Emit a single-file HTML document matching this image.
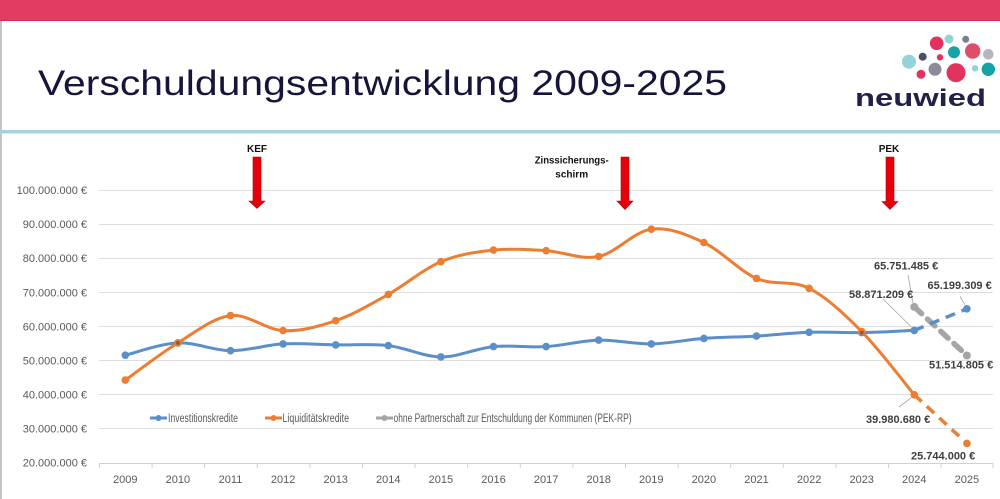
<!DOCTYPE html>
<html>
<head>
<meta charset="utf-8">
<style>
html,body{margin:0;padding:0;background:#fff;}
svg{display:block;}
</style>
</head>
<body>
<svg width="1000" height="499" viewBox="0 0 1000 499" xmlns="http://www.w3.org/2000/svg" font-family="'Liberation Sans', sans-serif">
  <rect x="0" y="0" width="1000" height="499" fill="#ffffff"/>
  <!-- top bar -->
  <rect x="0" y="0" width="1000" height="21" fill="#e33c63"/>
  <rect x="0" y="20" width="1000" height="1" fill="#c93556"/>
  <!-- left border -->
  <rect x="0" y="21" width="2" height="478" fill="#c4c4c4"/>
  <!-- teal separator -->
  <rect x="0" y="130" width="1000" height="3.5" fill="#a5d3dd"/>

  <!-- title -->
  <text x="38" y="95" font-size="35" fill="#17143a" textLength="689" lengthAdjust="spacingAndGlyphs">Verschuldungsentwicklung 2009-2025</text>

  <!-- logo -->
  <g>
    <circle cx="936.7" cy="43.3" r="6.8" fill="#e2335f"/>
    <circle cx="949" cy="39" r="4.5" fill="#93d3da"/>
    <circle cx="965.7" cy="39.3" r="3.5" fill="#7d7a8a"/>
    <circle cx="909" cy="61.7" r="7" fill="#93d3da"/>
    <circle cx="922.7" cy="56.7" r="4" fill="#4e4b63"/>
    <circle cx="940" cy="57.3" r="3.2" fill="#e2335f"/>
    <circle cx="954" cy="52.3" r="6" fill="#16a2a6"/>
    <circle cx="972.7" cy="51" r="7.7" fill="#df4e69"/>
    <circle cx="988.3" cy="54.3" r="5.3" fill="#b7b5c0"/>
    <circle cx="921" cy="74.3" r="4.5" fill="#e2335f"/>
    <circle cx="935" cy="69.3" r="6.5" fill="#8d8a99"/>
    <circle cx="956" cy="72.7" r="9.5" fill="#e2335f"/>
    <circle cx="975" cy="68.3" r="3.3" fill="#93d3da"/>
    <circle cx="988.3" cy="69.3" r="6.7" fill="#16a2a6"/>
    <text x="855" y="106" font-size="24" font-weight="bold" fill="#22204a" textLength="131" lengthAdjust="spacingAndGlyphs">neuwied</text>
  </g>

  <!-- gridlines -->
  <g stroke="#dedede" stroke-width="1">
    <line x1="99" y1="190.5" x2="993" y2="190.5"/>
    <line x1="99" y1="224.5" x2="993" y2="224.5"/>
    <line x1="99" y1="258.5" x2="993" y2="258.5"/>
    <line x1="99" y1="292.5" x2="993" y2="292.5"/>
    <line x1="99" y1="326.5" x2="993" y2="326.5"/>
    <line x1="99" y1="360.5" x2="993" y2="360.5"/>
    <line x1="99" y1="394.5" x2="993" y2="394.5"/>
    <line x1="99" y1="428.5" x2="993" y2="428.5"/>
  </g>
  <g stroke="#d0d0d0" stroke-width="1">
    <line x1="99" y1="463.5" x2="993" y2="463.5"/>
    <line x1="99.5" y1="463" x2="99.5" y2="468"/>
    <line x1="152.1" y1="463" x2="152.1" y2="468"/>
    <line x1="204.7" y1="463" x2="204.7" y2="468"/>
    <line x1="257.3" y1="463" x2="257.3" y2="468"/>
    <line x1="309.9" y1="463" x2="309.9" y2="468"/>
    <line x1="362.5" y1="463" x2="362.5" y2="468"/>
    <line x1="415.1" y1="463" x2="415.1" y2="468"/>
    <line x1="467.7" y1="463" x2="467.7" y2="468"/>
    <line x1="520.3" y1="463" x2="520.3" y2="468"/>
    <line x1="572.9" y1="463" x2="572.9" y2="468"/>
    <line x1="625.5" y1="463" x2="625.5" y2="468"/>
    <line x1="678.1" y1="463" x2="678.1" y2="468"/>
    <line x1="730.7" y1="463" x2="730.7" y2="468"/>
    <line x1="783.3" y1="463" x2="783.3" y2="468"/>
    <line x1="835.9" y1="463" x2="835.9" y2="468"/>
    <line x1="888.5" y1="463" x2="888.5" y2="468"/>
    <line x1="941.1" y1="463" x2="941.1" y2="468"/>
    <line x1="993" y1="463" x2="993" y2="468"/>
  </g>

  <!-- y axis labels -->
  <g font-size="11" fill="#595959" text-anchor="end">
    <text x="87" y="194">100.000.000 €</text>
    <text x="87" y="228">90.000.000 €</text>
    <text x="87" y="262">80.000.000 €</text>
    <text x="87" y="296.5">70.000.000 €</text>
    <text x="87" y="330.5">60.000.000 €</text>
    <text x="87" y="364.5">50.000.000 €</text>
    <text x="87" y="398.5">40.000.000 €</text>
    <text x="87" y="432.5">30.000.000 €</text>
    <text x="87" y="466.5">20.000.000 €</text>
  </g>

  <!-- x axis labels -->
  <g font-size="11" fill="#595959" text-anchor="middle">
    <text x="125.3" y="483">2009</text>
    <text x="177.9" y="483">2010</text>
    <text x="230.5" y="483">2011</text>
    <text x="283.1" y="483">2012</text>
    <text x="335.7" y="483">2013</text>
    <text x="388.3" y="483">2014</text>
    <text x="440.9" y="483">2015</text>
    <text x="493.5" y="483">2016</text>
    <text x="546.1" y="483">2017</text>
    <text x="598.7" y="483">2018</text>
    <text x="651.3" y="483">2019</text>
    <text x="703.9" y="483">2020</text>
    <text x="756.5" y="483">2021</text>
    <text x="809.1" y="483">2022</text>
    <text x="861.7" y="483">2023</text>
    <text x="914.3" y="483">2024</text>
    <text x="966.9" y="483">2025</text>
  </g>

  <!-- arrows -->
  <g fill="#e5000a" stroke="#b50008" stroke-width="0.6">
    <path d="M253,157 L261,157 L261,201 L265,201 L257,208.5 L249,201 L253,201 Z"/>
    <path d="M621,157 L629,157 L629,201 L633,201 L625,209.5 L617,201 L621,201 Z"/>
    <path d="M886,157 L894,157 L894,201.5 L898,201.5 L890,209.5 L882,201.5 L886,201.5 Z"/>
  </g>
  <g font-size="10" font-weight="bold" fill="#111" text-anchor="middle">
    <text x="257" y="152">KEF</text>
    <text x="571.7" y="163.5" textLength="74" lengthAdjust="spacingAndGlyphs">Zinssicherungs-</text>
    <text x="571.7" y="177.5">schirm</text>
    <text x="889" y="152">PEK</text>
  </g>

  <!-- dashed projections -->
  <line x1="914.3" y1="306.9" x2="966.9" y2="355.5" stroke="#a5a5a5" stroke-width="5.5" stroke-dasharray="10,8" stroke-linecap="round"/>
  <line x1="914.3" y1="330.4" x2="966.9" y2="308.8" stroke="#5b8fc9" stroke-width="3.5" stroke-dasharray="10,7"/>
  <line x1="914.3" y1="394.8" x2="966.9" y2="443.4" stroke="#ed7d31" stroke-width="3.5" stroke-dasharray="10,7"/>

  <!-- blue series -->
  <path fill="none" stroke="#5b8fc9" stroke-width="3" stroke-linejoin="round"
    d="M125.3,355.2 C134.1,353.15 160.37,343.65 177.9,342.9
    C195.43,342.15 212.97,350.53 230.5,350.7
    C248.03,350.87 265.57,344.87 283.1,343.9
    C300.63,342.93 318.17,344.62 335.7,344.9
    C353.23,345.18 370.77,343.6 388.3,345.6
    C405.83,347.6 423.37,356.73 440.9,356.9
    C458.43,357.07 475.97,348.32 493.5,346.6
    C511.03,344.88 528.57,347.68 546.1,346.6
    C563.63,345.52 581.17,340.55 598.7,340.1
    C616.23,339.65 633.77,344.18 651.3,343.9
    C668.83,343.62 686.37,339.7 703.9,338.4
    C721.43,337.1 738.97,337.12 756.5,336.1
    C774.03,335.08 791.57,332.88 809.1,332.3
    C826.63,331.72 844.17,332.92 861.7,332.6
    C879.23,332.28 905.5,330.77 914.3,330.4"/>
  <!-- orange series -->
  <path fill="none" stroke="#ed7d31" stroke-width="3" stroke-linejoin="round"
    d="M125.3,380.1 C134.1,373.9 160.37,353.65 177.9,342.9
    C195.43,332.15 212.97,317.65 230.5,315.6
    C248.03,313.55 265.57,329.75 283.1,330.6
    C300.63,331.45 318.17,326.73 335.7,320.7
    C353.23,314.67 370.77,304.23 388.3,294.4
    C405.83,284.57 423.37,269.08 440.9,261.7
    C458.43,254.32 475.97,251.93 493.5,250.1
    C511.03,248.27 528.57,249.63 546.1,250.7
    C563.63,251.77 581.17,260.08 598.7,256.5
    C616.23,252.92 633.77,231.52 651.3,229.2
    C668.83,226.88 686.37,234.4 703.9,242.6
    C721.43,250.8 738.97,270.78 756.5,278.4
    C774.03,286.02 791.57,279.43 809.1,288.3
    C826.63,297.17 844.17,313.85 861.7,331.6
    C879.23,349.35 905.5,384.27 914.3,394.8"/>

  <!-- markers -->
  <g fill="#5b8fc9">
    <circle cx="125.3" cy="355.2" r="3.8"/>
    <circle cx="177.9" cy="342.9" r="3.8"/>
    <circle cx="230.5" cy="350.7" r="3.8"/>
    <circle cx="283.1" cy="343.9" r="3.8"/>
    <circle cx="335.7" cy="344.9" r="3.8"/>
    <circle cx="388.3" cy="345.6" r="3.8"/>
    <circle cx="440.9" cy="356.9" r="3.8"/>
    <circle cx="493.5" cy="346.6" r="3.8"/>
    <circle cx="546.1" cy="346.6" r="3.8"/>
    <circle cx="598.7" cy="340.1" r="3.8"/>
    <circle cx="651.3" cy="343.9" r="3.8"/>
    <circle cx="703.9" cy="338.4" r="3.8"/>
    <circle cx="756.5" cy="336.1" r="3.8"/>
    <circle cx="809.1" cy="332.3" r="3.8"/>
    <circle cx="861.7" cy="332.6" r="3.8"/>
    <circle cx="914.3" cy="330.4" r="3.8"/>
    <circle cx="966.9" cy="308.8" r="3.8"/>
  </g>
  <g fill="#ed7d31">
    <circle cx="125.3" cy="380.1" r="3.8"/>
    <circle cx="177.9" cy="342.9" r="3.8"/>
    <circle cx="230.5" cy="315.6" r="3.8"/>
    <circle cx="283.1" cy="330.6" r="3.8"/>
    <circle cx="335.7" cy="320.7" r="3.8"/>
    <circle cx="388.3" cy="294.4" r="3.8"/>
    <circle cx="440.9" cy="261.7" r="3.8"/>
    <circle cx="493.5" cy="250.1" r="3.8"/>
    <circle cx="546.1" cy="250.7" r="3.8"/>
    <circle cx="598.7" cy="256.5" r="3.8"/>
    <circle cx="651.3" cy="229.2" r="3.8"/>
    <circle cx="703.9" cy="242.6" r="3.8"/>
    <circle cx="756.5" cy="278.4" r="3.8"/>
    <circle cx="809.1" cy="288.3" r="3.8"/>
    <circle cx="861.7" cy="331.6" r="3.8"/>
    <circle cx="914.3" cy="394.8" r="3.8"/>
    <circle cx="966.9" cy="443.4" r="3.8"/>
  </g>
  <g fill="#a5a5a5">
    <circle cx="914.3" cy="306.9" r="4"/>
    <circle cx="966.9" cy="355.5" r="4"/>
  </g>
  <circle cx="177.9" cy="342.9" r="2" fill="#3a3a3a" opacity="0.5"/>
  <circle cx="861.7" cy="332.6" r="2" fill="#3a3a3a" opacity="0.5"/>

  <!-- leader lines -->
  <g stroke="#a6a6a6" stroke-width="0.8" fill="none">
    <line x1="908" y1="275" x2="913" y2="303"/>
    <line x1="960" y1="296.5" x2="965" y2="305"/>
    <line x1="883" y1="299" x2="911.5" y2="327"/>
    <line x1="899" y1="407" x2="911.5" y2="397.5"/>
  </g>

  <!-- data labels -->
  <g font-size="11" font-weight="bold" fill="#404040">
    <text x="874" y="269.5">65.751.485 €</text>
    <text x="927.5" y="289">65.199.309 €</text>
    <text x="849" y="298">58.871.209 €</text>
    <text x="929" y="368.5">51.514.805 €</text>
    <text x="866" y="423">39.980.680 €</text>
    <text x="911" y="459.5">25.744.000 €</text>
  </g>

  <!-- legend -->
  <g>
    <line x1="150" y1="418" x2="167" y2="418" stroke="#5b8fc9" stroke-width="3"/>
    <circle cx="158.5" cy="418" r="3" fill="#5b8fc9"/>
    <text x="168" y="422" font-size="11.5" fill="#595959" textLength="70" lengthAdjust="spacingAndGlyphs">Investitionskredite</text>
    <line x1="265" y1="418" x2="282" y2="418" stroke="#ed7d31" stroke-width="3"/>
    <circle cx="273.5" cy="418" r="3" fill="#ed7d31"/>
    <text x="282.5" y="422" font-size="11.5" fill="#595959" textLength="66.5" lengthAdjust="spacingAndGlyphs">Liquiditätskredite</text>
    <line x1="376" y1="418" x2="393" y2="418" stroke="#a5a5a5" stroke-width="3"/>
    <circle cx="384.5" cy="418" r="3" fill="#a5a5a5"/>
    <text x="393.5" y="422" font-size="11.5" fill="#595959" textLength="238" lengthAdjust="spacingAndGlyphs">ohne Partnerschaft zur Entschuldung der Kommunen (PEK-RP)</text>
  </g>
</svg>
</body>
</html>
